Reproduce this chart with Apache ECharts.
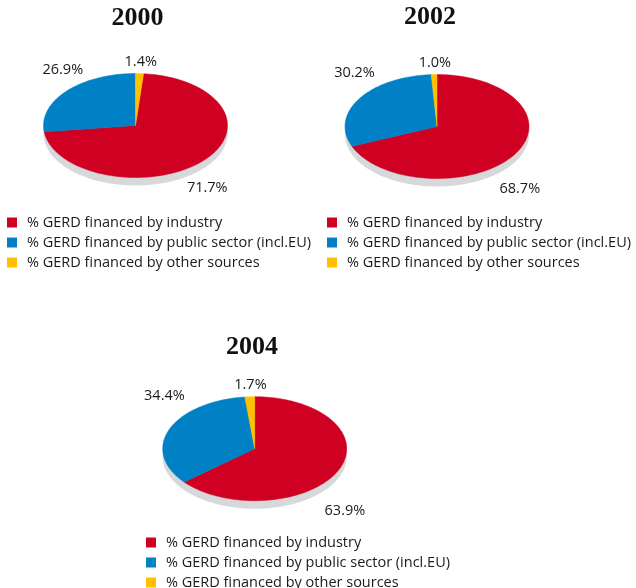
<!DOCTYPE html>
<html><head><meta charset="utf-8">
<script src="https://cdn.jsdelivr.net/npm/echarts@6/dist/echarts.min.js"></script>
<style>html,body{margin:0;padding:0;background:#fff}#c{width:636px;height:588px}</style>
</head><body><div id="c"></div>
<script>
// ---- data ----
const years = ['2000', '2002', '2004'];
const categories = [
  '% GERD financed by industry',
  '% GERD financed by public sector (incl.EU)',
  '% GERD financed by other sources'
];
const industry = [71.7, 68.7, 63.9];
const publicSector = [26.9, 30.2, 34.4];
const otherSources = [1.4, 1.0, 1.7];

// ---- layout / style ----
const seriesValues = [industry, publicSector, otherSources];
const colors = ['#cf0022', '#0081c6', '#ffc000'];
const pies = [
  { cx: 135.5, cy: 125.5, startDeg: 5, titleX: 137.5, titleY: 18, legendLeft: 7, legendTop: 215 },
  { cx: 437, cy: 126.5, startDeg: 0, titleX: 430, titleY: 17, legendLeft: 327, legendTop: 215 },
  { cx: 254.7, cy: 448.7, startDeg: 0, titleX: 252, titleY: 347, legendLeft: 146, legendTop: 535 }
];
const RX = 92, RY = 52, DEPTH = 8;
const FONT = '"Open Sans", "Noto Sans", sans-serif';

function ellipsePts(cx, cy, a0, a1, withCenter) {
  const pts = [];
  if (withCenter) pts.push([cx, cy]);
  const n = Math.max(4, Math.ceil((a1 - a0) / (Math.PI / 90)));
  for (let i = 0; i <= n; i++) {
    const t = a0 + (a1 - a0) * i / n;
    pts.push([cx + RX * Math.sin(t), cy - RY * Math.cos(t)]);
  }
  return pts;
}

function wedgeRenderer(k) {
  return function (params, api) {
    const p = api.value(0);
    const pie = pies[p];
    const vals = seriesValues.map(a => a[p]);
    const total = vals.reduce((s, v) => s + v, 0);
    let before = 0;
    for (let j = 0; j < k; j++) before += vals[j];
    const a0 = pie.startDeg * Math.PI / 180 + before / total * 2 * Math.PI;
    const a1 = a0 + api.value(1) / total * 2 * Math.PI;
    const col = api.visual('color');
    const mid = (a0 + a1) / 2;
    const s = Math.sin(mid), c = Math.cos(mid);
    const lx = pie.cx + RX * s * 1.07 + 1;
    let ly;
    if (c >= 0) ly = pie.cy - RY - 1 - 11 * Math.pow(c, 4);
    else ly = pie.cy + RY + 10;
    return {
      type: 'group',
      children: [
        { type: 'polygon', shape: { points: ellipsePts(pie.cx, pie.cy, a0, a1, true) },
          style: { fill: col, stroke: col, lineWidth: 0.5 } },
        { type: 'text', x: lx, y: ly,
          style: { text: api.value(1).toFixed(1) + '%', fill: '#1a1a1a',
                   font: '14.5px ' + FONT, textAlign: 'center', textVerticalAlign: 'middle' } }
      ]
    };
  };
}

const series = [{
  type: 'custom',
  name: 'depth',
  coordinateSystem: 'none',
  silent: true,
  z: 1,
  data: years.map((y, i) => [i]),
  renderItem: function (params, api) {
    const pie = pies[api.value(0)];
    return { type: 'polygon',
      shape: { points: ellipsePts(pie.cx, pie.cy + DEPTH, 0, 2 * Math.PI, false) },
      style: { fill: '#d7d8da' } };
  }
}];
categories.forEach((name, k) => {
  series.push({
    type: 'custom',
    name: name,
    coordinateSystem: 'none',
    z: 2,
    itemStyle: { color: colors[k] },
    data: years.map((y, i) => [i, seriesValues[k][i]]),
    renderItem: wedgeRenderer(k)
  });
});

const chart = echarts.init(document.getElementById('c'), null, { renderer: 'canvas' });
chart.setOption({
  animation: false,
  color: colors,
  legend: pies.map(p => ({
    data: categories,
    orient: 'vertical',
    left: p.legendLeft,
    top: p.legendTop,
    height: 120,
    icon: 'rect',
    itemWidth: 10,
    itemHeight: 10,
    itemGap: 5,
    padding: 0,
    textStyle: { fontSize: 14.5, fontFamily: FONT, color: '#1a1a1a', padding: [0, 0, 0, 5], lineHeight: 14 }
  })),
  graphic: pies.map((p, i) => ({
    type: 'text', x: p.titleX, y: p.titleY,
    style: { text: years[i], font: 'bold 26px "Liberation Serif", "DejaVu Serif", serif',
             fill: '#111', textAlign: 'center', textVerticalAlign: 'middle' }
  })),
  series: series
});
</script></body></html>
